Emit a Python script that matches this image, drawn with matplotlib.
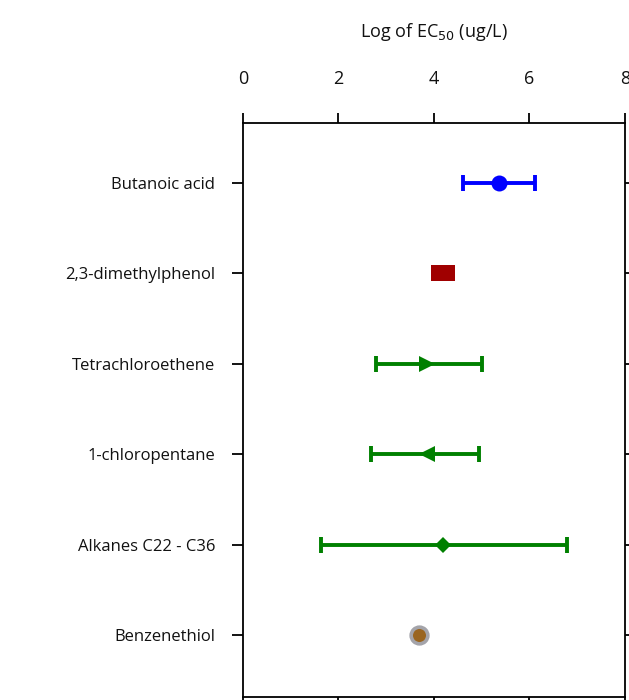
import numpy as np
import matplotlib.pyplot as plt
from matplotlib.path import Path

# chemicals, top to bottom
chemicals = ["Butanoic acid", "2,3-dimethylphenol", "Tetrachloroethene",
             "1-chloropentane", "Alkanes C22 - C36", "Benzenethiol"]
log_ec50 = [5.36, 4.19, 3.86, 3.85, 4.19, 3.69]
err_low = [0.75, 0.0, 1.08, 1.17, 2.56, 0.0]
err_high = [0.76, 0.0, 1.14, 1.09, 2.60, 0.0]
x_ticks = [0, 2, 4, 6, 8]

# rectangle marker for the square-ish point
rect = Path([(-1.5, -1), (1.5, -1), (1.5, 1), (-1.5, 1), (-1.5, -1)],
            [Path.MOVETO, Path.LINETO, Path.LINETO, Path.LINETO, Path.CLOSEPOLY])

styles = [
    dict(color="#0000ff", marker="o", ms=11.5, mfc="#0000ff", mec="#0000ff", mew=0),
    dict(color="#a00000", marker=rect, ms=17, mfc="#a00000", mec="#a00000", mew=0),
    dict(color="#008000", marker=">", ms=11, mfc="#008000", mec="#008000", mew=0),
    dict(color="#008000", marker="<", ms=11, mfc="#008000", mec="#008000", mew=0),
    dict(color="#008000", marker="D", ms=8, mfc="#008000", mec="#008000", mew=0),
    dict(color="#9aa0a6", marker="o", ms=12, mfc="#9a6520", mec="#a4a4aa", mew=2.6),
]

fig = plt.figure(figsize=(6.29, 7.0), dpi=100)
ax = fig.add_axes([0.3863, 0.0043, 0.6073, 0.82])

y = np.arange(len(chemicals))
for i in range(len(chemicals)):
    st = styles[i]
    if err_low[i] > 0 or err_high[i] > 0:
        ax.errorbar(log_ec50[i], y[i], xerr=[[err_low[i]], [err_high[i]]], fmt="none",
                    ecolor=st["color"], elinewidth=2.8, capsize=6, capthick=2.8)
    ax.plot(log_ec50[i], y[i], linestyle="none", marker=st["marker"], markersize=st["ms"],
            markerfacecolor=st["mfc"], markeredgecolor=st["mec"], markeredgewidth=st["mew"],
            zorder=5)

ax.set_xlim(0, 8)
ax.set_ylim(5.68, -0.66)
ax.set_yticks(y)
ax.set_yticklabels(chemicals, fontsize=12, color="#111111", fontname="Open Sans")
ax.set_xticks(x_ticks)
ax.xaxis.tick_top()
ax.xaxis.set_label_position("top")
ax.set_xticklabels([str(t) for t in x_ticks], fontsize=13, color="#111111", fontname="Open Sans")
ax.tick_params(axis="x", which="both", top=True, bottom=True, direction="out",
               length=7, width=1.3, pad=18)
ax.tick_params(axis="y", which="both", left=True, right=True, direction="out",
               length=8, width=1.3, pad=12)
ax.set_xlabel("Log of EC$_{50}$ (ug/L)", fontsize=13, color="#111111",
              fontname="Open Sans", labelpad=24)
for s in ax.spines.values():
    s.set_linewidth(1.3)

fig.savefig("out.png", dpi=100)
